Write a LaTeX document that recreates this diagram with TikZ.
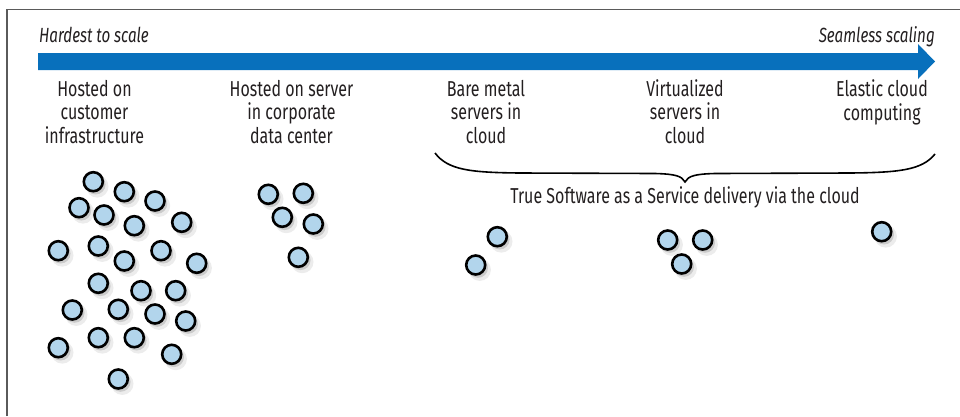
\documentclass[tikz,border=0pt]{standalone}
\usepackage{fontspec}
\setmainfont[FakeStretch=0.74]{Fira Sans}
\usetikzlibrary{shadows}
\definecolor{arrowblue}{RGB}{8,112,188}
\definecolor{srvblue}{RGB}{178,213,236}
\definecolor{txt}{RGB}{35,31,32}
\definecolor{framegray}{RGB}{90,90,90}
\tikzset{
  srv/.style={circle, draw=black, line width=2.6pt, fill=srvblue, minimum size=19pt, inner sep=0pt,
    drop shadow={shadow xshift=3.4pt, shadow yshift=-4pt, opacity=0.15, shadow scale=1.18},
    drop shadow={shadow xshift=2.2pt, shadow yshift=-2.7pt, opacity=0.3, shadow scale=1.05}},
  lbl/.style={anchor=base, align=center, inner sep=0pt, text=txt, font=\fontsize{21.6}{23.5}\selectfont},
  tag/.style={inner sep=0pt, text=txt, font=\fontsize{20.5}{22}\selectfont\itshape},
}
\begin{document}
\begin{tikzpicture}[x=1pt,y=-1pt]
\useasboundingbox (0,0) rectangle (960,416);
% frame
\draw[framegray, line width=1.4pt] (7,416) -- (7,9.5) -- (960,9.5);
% arrow
\fill[arrowblue] (38,53) -- (918,53) -- (918,44) -- (935,61.5) -- (918,79) -- (918,70) -- (38,70) -- cycle;
\node[tag, anchor=base west] (hard) at (39,42) {Hardest to scale};
\node[tag, anchor=base east] (seam) at (935,42) {Seamless scaling};
% labels (anchored at the baseline of the last line)
\node[lbl] (l1) at (94.5,143) {Hosted on\\customer\\infrastructure};
\node[lbl] (l2) at (291.5,143) {Hosted on server\\in corporate\\data center};
\node[lbl] (l3) at (486,143) {Bare metal\\servers in\\cloud};
\node[lbl] (l4) at (685,143) {Virtualized\\servers in\\cloud};
\node[lbl] (l5) at (882,120) {Elastic cloud\\computing};
% brace
\coordinate (bl) at (435,153);
\coordinate (bt) at (685,182);
\coordinate (br) at (935,154);
\draw[black, line width=1.6pt] (bl) .. controls (448,170) and (470,172.5) .. (520,173) -- (655,173.5) .. controls (675,174) and (682,176) .. (bt)
  .. controls (688,176) and (695,174) .. (715,173.5) -- (850,173) .. controls (900,172.5) and (922,170) .. (br);
\node[lbl] (saas) at (685,203) {True Software as a Service delivery via the cloud};
% servers group 1
\foreach \x/\y [count=\i] in {93.3/181.7,124.3/191.7,155/201,79/207.7,104/215,134.3/225.7,181.7/222.3,58.3/250.7,98.3/246,124.3/261,161/250.7,196.7/263.3,98.3/283.3,141/290.7,175.7/290.7,72.3/310,118.3/309.3,155/314,185.7/321,58.3/347.7,98.3/337.7,134.3/337.7,171.7/354.3,118.3/379}
  \node[srv] (a\i) at (\x,\y) {};
% group 2
\foreach \x/\y [count=\i] in {268.3/194.3,303.3/193.3,282.3/217.3,313.3/224,298.3/257.3}
  \node[srv] (b\i) at (\x,\y) {};
% group 3
\node[srv] (c1) at (497.3,236.7) {};
\node[srv] (c2) at (475.7,265) {};
% group 4
\node[srv] (d1) at (667.7,240) {};
\node[srv] (d2) at (702.7,240) {};
\node[srv] (d3) at (681.7,264) {};
% group 5
\node[srv] (e1) at (881.7,231.7) {};
\end{tikzpicture}
\end{document}
